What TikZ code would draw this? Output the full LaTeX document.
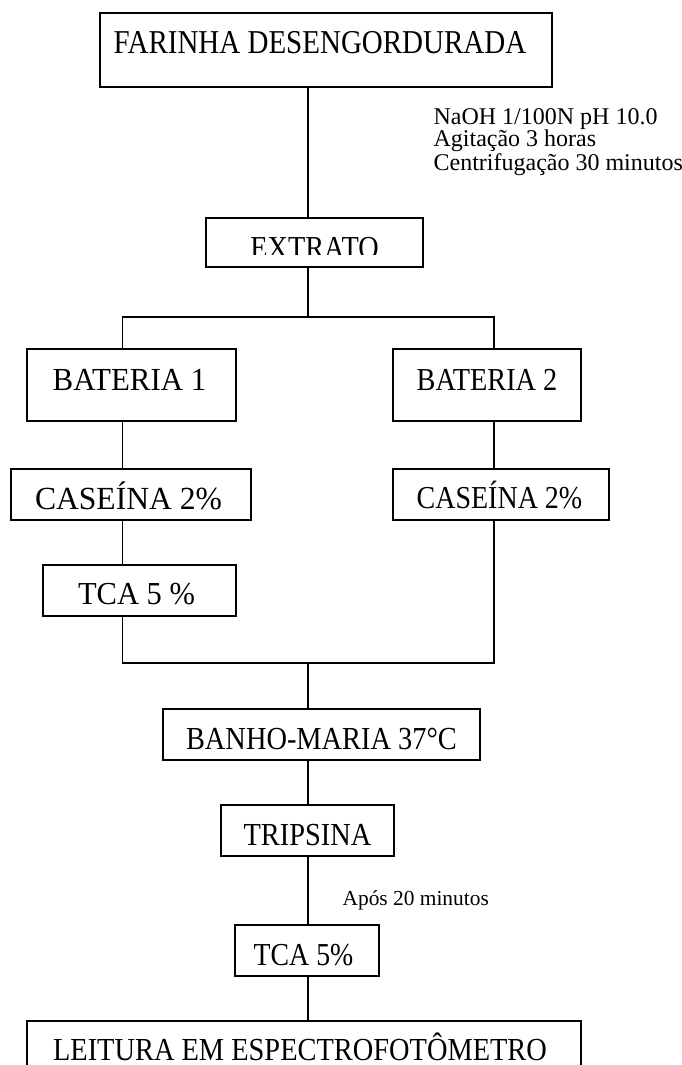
\documentclass[tikz,border=0pt]{standalone}
\usepackage{graphicx}
\usepackage{fontspec}
\setmainfont{Liberation Serif}
% text stretched vertically by #1
\newcommand\tallt[2]{\scalebox{1}[#1]{#2}}
\begin{document}
\begin{tikzpicture}[x=1pt,y=-1pt,
  line width=1.2pt,
  box/.style 2 args={draw, line width=1.2pt, inner sep=0pt,
    minimum width=#1, minimum height=#2,
    font=\fontsize{28.4}{30}\selectfont,
    text height=21pt, text depth=0pt},
  fsz/.style={font=\fontsize{#1}{#1}\selectfont},
  tpos/.style 2 args={text height=#1, text depth=#2},
  hs/.style={execute at begin node={\hspace*{#1}}},
  note/.style={anchor=base west, inner sep=0pt, font=\fontsize{24}{21}\selectfont},
  smallnote/.style={anchor=base west, inner sep=0pt, font=\fontsize{21.4}{24}\selectfont}]
\useasboundingbox (0,0) rectangle (682,1065);

% lanes of the flow chart
\coordinate (spine) at (308,0);
\coordinate (lanel) at (122.5,0);
\coordinate (laner) at (494,0);
\coordinate (split) at (308,317);
\coordinate (join)  at (308,663);

% process boxes
\node[box={452pt}{74pt}, fsz=29, tpos={21pt}{14pt}, hs=-12pt] (farinha) at (326,50)
  {\tallt{1.15}{FARINHA DESENGORDURADA}};
\node[box={217pt}{49pt}] (extrato) at (314.5,242.5) {};
\begin{scope}
  \clip (200,218) rectangle (430,254.5);
  \node[anchor=base, inner sep=0pt, font=\fontsize{28.3}{30}\selectfont] (extratotxt)
    at (314.5,258.5) {\tallt{1.13}{EXTRATO}};
\end{scope}
\node[box={209pt}{72pt}, fsz=30.9, tpos={21pt}{11pt}, hs=-4pt] (bat1) at (131.5,385)
  {\tallt{1.04}{BATERIA 1}};
\node[box={188pt}{72pt}, fsz=28.3, tpos={21pt}{11pt}] (bat2) at (487,385)
  {\tallt{1.13}{BATERIA 2}};
\node[box={240pt}{51pt}, fsz=31.6, tpos={29pt}{0pt}, hs=-5pt] (cas1) at (131,494.5)
  {\tallt{1.02}{CASEÍNA 2\%}};
\node[box={216pt}{51pt}, fsz=28, tpos={28pt}{0pt}, hs=-3pt] (cas2) at (501,494.5)
  {\tallt{1.14}{CASEÍNA 2\%}};
\node[box={193pt}{51pt}, fsz=30.5, tpos={28pt}{0pt}, hs=-6pt] (tca1) at (139.5,590.5)
  {\tallt{1.05}{TCA 5 \%}};
\node[box={317pt}{51pt}, fsz=28.4, tpos={29pt}{0pt}] (banho) at (321.5,734.5)
  {\tallt{1.13}{BANHO-MARIA 37°C}};
\node[box={173pt}{51pt}, fsz=28.4, tpos={29.4pt}{0pt}] (trip) at (307.5,830.5)
  {\tallt{1.13}{TRIPSINA}};
\node[box={144pt}{51pt}, fsz=27.8, tpos={30pt}{0pt}, hs=-7pt] (tca2) at (307,950.5)
  {\tallt{1.15}{TCA 5\%}};
\node[box={554pt}{51pt}, fsz=28.4, tpos={27pt}{0pt}, hs=-8pt] (leitura) at (304,1046.5)
  {\tallt{1.13}{LEITURA EM ESPECTROFOTÔMETRO}};

% conditions
\node[note] (cond) at (433,124)
  {\begin{tabular}[t]{@{}l@{}}NaOH 1/100N pH 10.0\\Agitação 3 horas\\Centrifugação 30 minutos\end{tabular}};
\node[smallnote] (apos) at (342,905) {Após 20 minutos};

% connectors
\draw (farinha.south -| spine) -- (extrato.north -| spine);
\draw (extrato.south -| spine) -- (split);
\draw (bat1.north -| lanel) |- (split) -| (bat2.north -| laner);
\draw (bat1.south -| lanel) -- (cas1.north -| lanel);
\draw (cas1.south -| lanel) -- (tca1.north -| lanel);
\draw (bat2.south -| laner) -- (cas2.north -| laner);
\draw (tca1.south -| lanel) |- (join) -| (cas2.south -| laner);
\draw (join) -- (banho.north -| spine);
\draw (banho.south -| spine) -- (trip.north -| spine);
\draw (trip.south -| spine) -- (tca2.north -| spine);
\draw (tca2.south -| spine) -- (leitura.north -| spine);
\end{tikzpicture}
\end{document}
